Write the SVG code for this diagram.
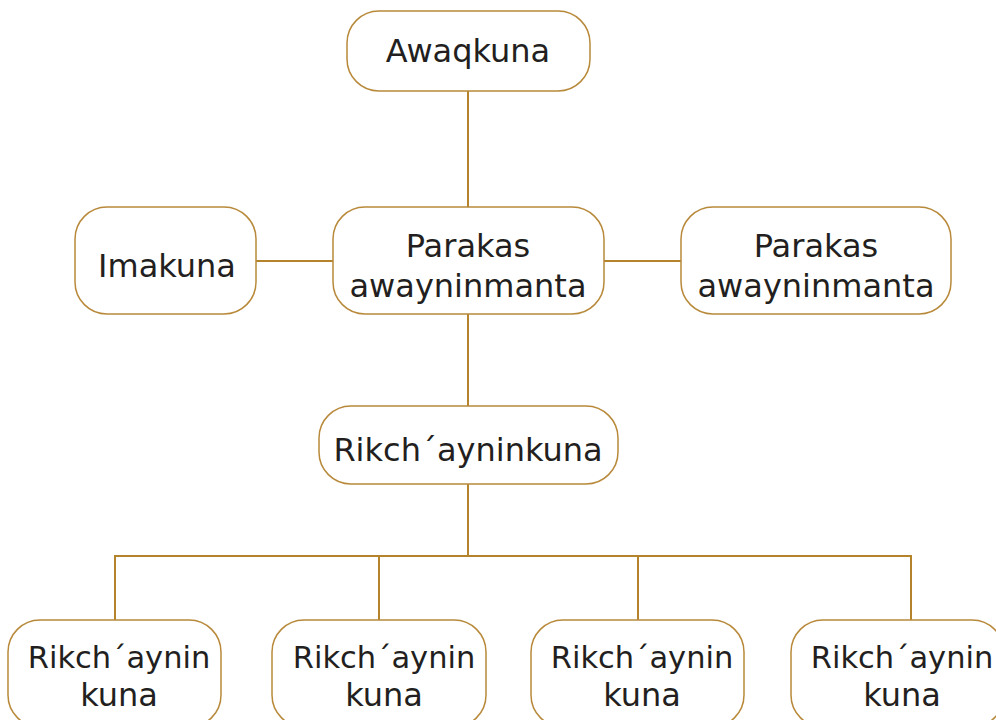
<svg xmlns="http://www.w3.org/2000/svg" width="996" height="720" viewBox="0 0 996 720">
  <style>
    .box { fill: #ffffff; stroke: #b8893a; stroke-width: 1.5; }
    .link { fill: none; stroke: #b5832c; stroke-width: 2; }
    .label { font-family: "DejaVu Sans", "Liberation Sans", sans-serif; font-size: 32px; fill: #231f20; text-anchor: middle; }
    .small { font-size: 30.5px; }
  </style>
  <rect width="996" height="720" fill="#ffffff"/>

  <g id="connectors">
    <line class="link" x1="468" y1="91" x2="468" y2="208"/>
    <line class="link" x1="256" y1="261" x2="333" y2="261"/>
    <line class="link" x1="604" y1="261" x2="681" y2="261"/>
    <line class="link" x1="468" y1="314" x2="468" y2="406"/>
    <line class="link" x1="468" y1="484" x2="468" y2="556"/>
    <polyline class="link" points="115,620 115,556 911,556 911,620"/>
    <line class="link" x1="379" y1="556" x2="379" y2="620"/>
    <line class="link" x1="638" y1="556" x2="638" y2="620"/>
  </g>

  <g id="awaqkuna">
    <rect class="box" x="347" y="11" width="243" height="80" rx="32"/>
    <text class="label" x="468" y="62">Awaqkuna</text>
  </g>

  <g id="imakuna">
    <rect class="box" x="75" y="207" width="181" height="107" rx="32"/>
    <text class="label" x="167" y="277">Imakuna</text>
  </g>

  <g id="parakas-center">
    <rect class="box" x="333" y="207" width="271" height="107" rx="32"/>
    <text class="label" x="468" y="257">Parakas</text>
    <text class="label" x="468" y="297">awayninmanta</text>
  </g>

  <g id="parakas-right">
    <rect class="box" x="681" y="207" width="270" height="107" rx="32"/>
    <text class="label" x="816" y="257">Parakas</text>
    <text class="label" x="816" y="297">awayninmanta</text>
  </g>

  <g id="rikchayninkuna">
    <rect class="box" x="319" y="406" width="299" height="78" rx="32"/>
    <text class="label" x="468" y="461">Rikch´ayninkuna</text>
  </g>

  <g id="rikchaynin-1">
    <rect class="box" x="8" y="620" width="213" height="107" rx="32"/>
    <text class="label small" x="119" y="668">Rikch´aynin</text>
    <text class="label" x="119" y="706">kuna</text>
  </g>

  <g id="rikchaynin-2">
    <rect class="box" x="272" y="620" width="214" height="107" rx="32"/>
    <text class="label small" x="384" y="668">Rikch´aynin</text>
    <text class="label" x="384" y="706">kuna</text>
  </g>

  <g id="rikchaynin-3">
    <rect class="box" x="531" y="620" width="213" height="107" rx="32"/>
    <text class="label small" x="642" y="668">Rikch´aynin</text>
    <text class="label" x="642" y="706">kuna</text>
  </g>

  <g id="rikchaynin-4">
    <rect class="box" x="791" y="620" width="213" height="107" rx="32"/>
    <text class="label small" x="902" y="668">Rikch´aynin</text>
    <text class="label" x="902" y="706">kuna</text>
  </g>
</svg>
